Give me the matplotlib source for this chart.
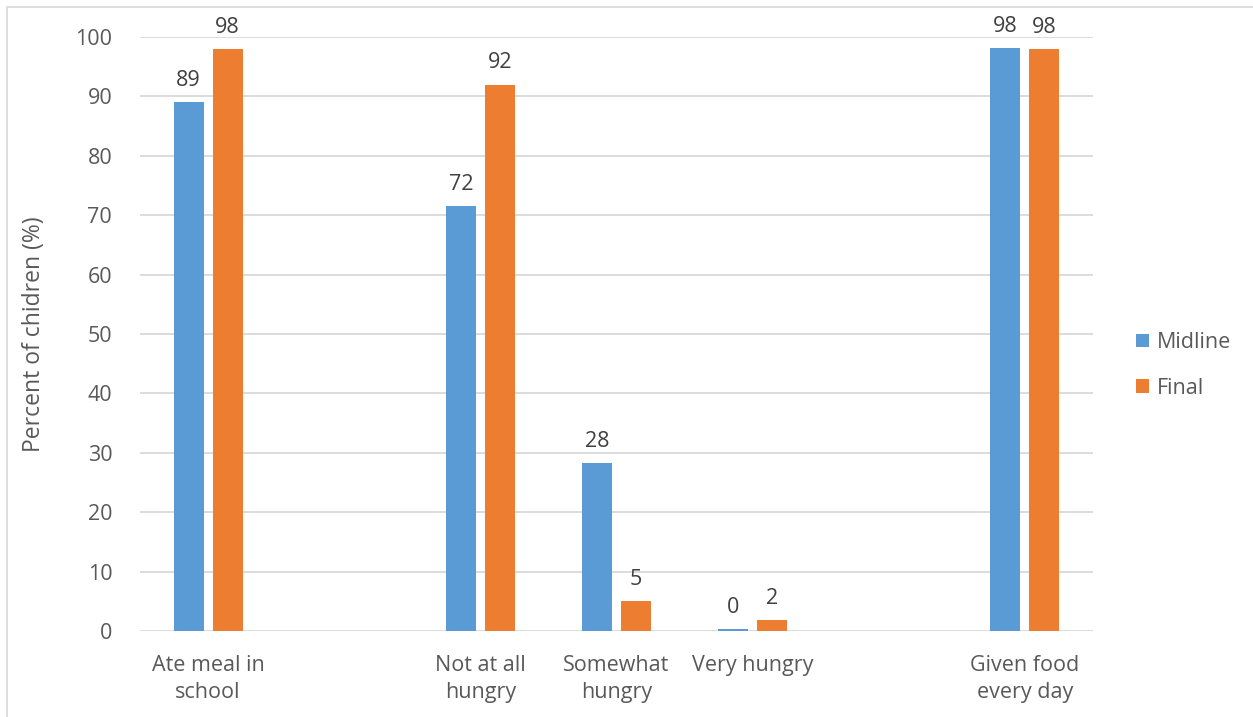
import numpy as np
import matplotlib.pyplot as plt
from matplotlib.patches import Rectangle

# categories (empty slots keep the Excel-style spacing)
categories = ["Ate meal in\nschool", "", "Not at all\nhungry", "Somewhat\nhungry",
              "Very hungry", "", "Given food\nevery day"]
midline = [89.0, np.nan, 71.5, 28.3, 0.3, np.nan, 98.2]
final = [98.0, np.nan, 92.0, 5.0, 1.9, np.nan, 98.0]
yticks = [0, 10, 20, 30, 40, 50, 60, 70, 80, 90, 100]

plt.rcParams['font.family'] = ['Open Sans', 'DejaVu Sans']

fig = plt.figure(figsize=(12.53, 7.17), dpi=100)
ax = fig.add_axes([140/1253, 86/717, 953/1253, 594/717])

# rama wykresu
fig.patches.append(Rectangle((7/1253, -0.1), 1.2, (717-7)/717 + 0.1, transform=fig.transFigure,
                             fill=False, edgecolor='#d9d9d9', linewidth=1.2))

x = np.arange(len(categories))
szer = 0.22
off = 0.143
niebieski = '#5b9bd5'
pomaranczowy = '#ed7d31'

ax.bar(x - off, midline, szer, color=niebieski, label='Midline', zorder=3)
ax.bar(x + off, final, szer, color=pomaranczowy, label='Final', zorder=3)

for xs, vals in ((x - off, midline), (x + off, final)):
    for xi, v in zip(xs, vals):
        if np.isnan(v):
            continue
        ax.annotate(f"{v:.0f}", (xi, v), xytext=(0, 8), textcoords='offset points',
                    ha='center', va='bottom', fontsize=15.5, color='#404040')

ax.set_xlim(-0.5, len(categories) - 0.5)
ax.set_ylim(0, 100)
ax.set_yticks(yticks)
ax.set_xticks(x)
ax.set_xticklabels(categories, fontsize=15.5, color='#595959', linespacing=1.42)
ax.tick_params(axis='y', labelsize=15.5, labelcolor='#595959', length=0, pad=20)
ax.tick_params(axis='x', length=0, pad=17)
ax.grid(axis='y', color='#d9d9d9', linewidth=1.3, zorder=0)
for s in ax.spines.values():
    s.set_visible(False)

ax.set_ylabel('Percent of chidren (%)', fontsize=16.5, color='#595959', labelpad=21)

ax.legend(loc='center left', bbox_to_anchor=(1.025, 0.447), frameon=False, fontsize=15.5,
          labelcolor='#595959', handlelength=0.6, handleheight=0.6, handletextpad=0.35,
          labelspacing=1.15)

fig.savefig('out.png', dpi=100)
